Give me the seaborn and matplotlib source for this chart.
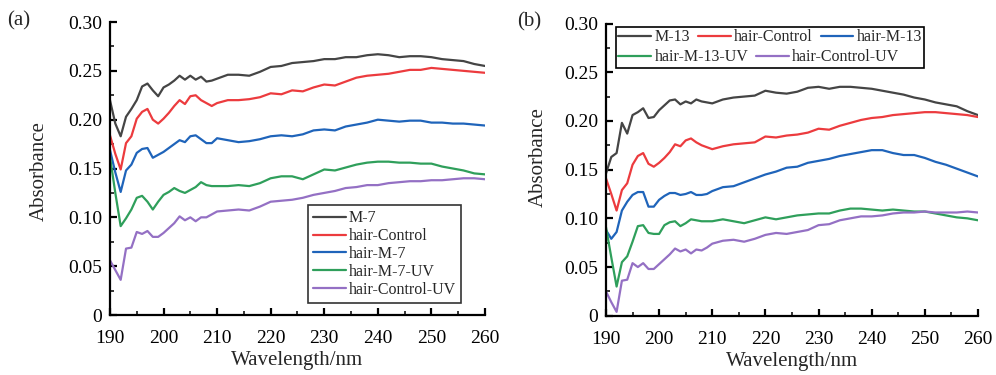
import matplotlib
matplotlib.use("Agg")
import matplotlib.pyplot as plt
import seaborn as sns
import pandas as pd
from matplotlib.patches import Rectangle
from matplotlib.transforms import Bbox
from matplotlib.ticker import MultipleLocator, FuncFormatter

# ---------------- data ----------------
wavelength = list(range(190, 211)) + list(range(212, 261, 2))

# panel (a)
a_M7 = [0.220, 0.196, 0.183, 0.203, 0.211, 0.220, 0.234, 0.237, 0.230, 0.224, 0.233,
        0.236, 0.240, 0.245, 0.241, 0.245, 0.241, 0.244, 0.239, 0.240, 0.242,
        0.246, 0.246, 0.245, 0.249, 0.254, 0.255, 0.258, 0.259, 0.260, 0.262,
        0.262, 0.264, 0.264, 0.266, 0.267, 0.266, 0.264, 0.265, 0.265, 0.264,
        0.262, 0.261, 0.260, 0.257, 0.255]
a_hair_control = [0.184, 0.165, 0.149, 0.176, 0.183, 0.201, 0.208, 0.211, 0.200, 0.196, 0.201,
                  0.207, 0.214, 0.220, 0.216, 0.224, 0.225, 0.220, 0.217, 0.214, 0.217,
                  0.220, 0.220, 0.221, 0.223, 0.227, 0.226, 0.230, 0.229, 0.233, 0.236,
                  0.235, 0.239, 0.243, 0.245, 0.246, 0.247, 0.249, 0.251, 0.251, 0.253,
                  0.252, 0.251, 0.250, 0.249, 0.248]
a_hair_M7 = [0.169, 0.146, 0.126, 0.148, 0.154, 0.166, 0.170, 0.171, 0.161, 0.164, 0.167,
             0.171, 0.175, 0.179, 0.177, 0.183, 0.184, 0.180, 0.176, 0.176, 0.181,
             0.179, 0.177, 0.178, 0.180, 0.183, 0.184, 0.183, 0.185, 0.189, 0.190,
             0.189, 0.193, 0.195, 0.197, 0.200, 0.199, 0.198, 0.199, 0.199, 0.197,
             0.197, 0.196, 0.196, 0.195, 0.194]
a_hair_M7_UV = [0.162, 0.125, 0.091, 0.099, 0.108, 0.120, 0.122, 0.116, 0.108, 0.116, 0.123,
                0.126, 0.130, 0.127, 0.125, 0.128, 0.131, 0.136, 0.133, 0.132, 0.132,
                0.132, 0.133, 0.132, 0.135, 0.140, 0.142, 0.142, 0.139, 0.144, 0.149,
                0.148, 0.151, 0.154, 0.156, 0.157, 0.157, 0.156, 0.156, 0.155, 0.155,
                0.152, 0.150, 0.148, 0.145, 0.144]
a_hair_control_UV = [0.056, 0.046, 0.036, 0.068, 0.069, 0.085, 0.083, 0.086, 0.080, 0.080, 0.084,
                     0.089, 0.094, 0.101, 0.097, 0.100, 0.096, 0.100, 0.100, 0.103, 0.106,
                     0.107, 0.108, 0.107, 0.111, 0.116, 0.117, 0.118, 0.120, 0.123, 0.125,
                     0.127, 0.130, 0.131, 0.133, 0.133, 0.135, 0.136, 0.137, 0.137, 0.138,
                     0.138, 0.139, 0.140, 0.140, 0.139]

# panel (b)
b_M13 = [0.146, 0.163, 0.167, 0.198, 0.187, 0.206, 0.209, 0.213, 0.203, 0.204, 0.211,
         0.216, 0.221, 0.222, 0.217, 0.220, 0.218, 0.222, 0.220, 0.219, 0.218,
         0.222, 0.224, 0.225, 0.226, 0.231, 0.229, 0.228, 0.230, 0.234, 0.235,
         0.233, 0.235, 0.235, 0.234, 0.233, 0.231, 0.229, 0.227, 0.224, 0.222,
         0.219, 0.217, 0.215, 0.210, 0.206]
b_hair_control = [0.141, 0.125, 0.108, 0.129, 0.136, 0.155, 0.164, 0.167, 0.156, 0.153, 0.157,
                  0.162, 0.168, 0.176, 0.174, 0.180, 0.182, 0.178, 0.175, 0.173, 0.171,
                  0.174, 0.176, 0.177, 0.178, 0.184, 0.183, 0.185, 0.186, 0.188, 0.192,
                  0.191, 0.195, 0.198, 0.201, 0.203, 0.204, 0.206, 0.207, 0.208, 0.209,
                  0.209, 0.208, 0.207, 0.206, 0.204]
b_hair_M13 = [0.088, 0.079, 0.086, 0.108, 0.117, 0.124, 0.127, 0.127, 0.112, 0.112, 0.119,
              0.123, 0.126, 0.126, 0.124, 0.125, 0.127, 0.124, 0.124, 0.125, 0.128,
              0.132, 0.133, 0.137, 0.141, 0.145, 0.148, 0.152, 0.153, 0.157, 0.159,
              0.161, 0.164, 0.166, 0.168, 0.170, 0.170, 0.167, 0.165, 0.165, 0.162,
              0.158, 0.155, 0.151, 0.147, 0.143]
b_hair_M13_UV = [0.091, 0.060, 0.030, 0.055, 0.061, 0.076, 0.092, 0.093, 0.085, 0.084, 0.084,
                 0.093, 0.096, 0.097, 0.092, 0.095, 0.099, 0.098, 0.097, 0.097, 0.097,
                 0.099, 0.097, 0.095, 0.098, 0.101, 0.099, 0.101, 0.103, 0.104, 0.105,
                 0.105, 0.108, 0.110, 0.110, 0.109, 0.108, 0.109, 0.108, 0.107, 0.107,
                 0.105, 0.103, 0.101, 0.100, 0.098]
b_hair_control_UV = [0.025, 0.014, 0.004, 0.036, 0.037, 0.054, 0.050, 0.054, 0.048, 0.048, 0.053,
                     0.058, 0.063, 0.069, 0.066, 0.068, 0.064, 0.068, 0.067, 0.070, 0.074,
                     0.077, 0.078, 0.076, 0.079, 0.083, 0.085, 0.084, 0.086, 0.088, 0.093,
                     0.094, 0.098, 0.100, 0.102, 0.102, 0.103, 0.105, 0.106, 0.106, 0.107,
                     0.106, 0.106, 0.106, 0.107, 0.106]

labels_a = ["M-7", "hair-Control", "hair-M-7", "hair-M-7-UV", "hair-Control-UV"]
labels_b = ["M-13", "hair-Control", "hair-M-13", "hair-M-13-UV", "hair-Control-UV"]
colors = ["#454545", "#ec3b3e", "#1f64ba", "#2f9f5b", "#9470c4"]
x_ticks = [190, 200, 210, 220, 230, 240, 250, 260]
y_ticks = [0, 0.05, 0.10, 0.15, 0.20, 0.25, 0.30]

# ---------------- style ----------------
sns.set_style("ticks")
plt.rcParams["font.family"] = ["Liberation Serif", "DejaVu Serif"]
plt.rcParams["axes.linewidth"] = 1.6

fig = plt.figure(figsize=(9.96, 3.75), dpi=100)
ax_a = fig.add_axes([0.1104, 0.16, 0.3765, 0.7813])
ax_b = fig.add_axes([0.6084, 0.158, 0.3735, 0.7793])


def draw(ax, series, labels):
    for vals, lab, col in zip(series, labels, colors):
        df = pd.DataFrame({"Wavelength": wavelength, "Absorbance": vals})
        sns.lineplot(data=df, x="Wavelength", y="Absorbance", ax=ax, color=col,
                     linewidth=1.6, label=lab, legend=False, estimator=None)
    ax.set_xlim(190, 260)
    ax.set_ylim(0, 0.30)
    ax.set_xticks(x_ticks)
    ax.set_yticks(y_ticks)
    ax.xaxis.set_minor_locator(MultipleLocator(5))
    ax.yaxis.set_minor_locator(MultipleLocator(0.025))
    ax.yaxis.set_major_formatter(FuncFormatter(lambda v, p: "0" if abs(v) < 1e-9 else f"{v:.2f}"))
    ax.tick_params(which="major", direction="in", length=5, width=1.6, labelsize=14)
    ax.tick_params(axis="y", which="major", pad=5.5)
    ax.tick_params(axis="x", which="major", pad=11)
    ax.tick_params(which="minor", direction="in", length=3, width=1.3)
    ax.set_xlabel("Wavelength/nm", fontsize=15, labelpad=3)
    ax.set_ylabel("Absorbance", fontsize=15)
    for s in ["top", "right"]:
        ax.spines[s].set_visible(False)
    ax.spines["left"].set_color("black")
    ax.spines["bottom"].set_color("black")
    ax.tick_params(colors="black")


draw(ax_a, [a_M7, a_hair_control, a_hair_M7, a_hair_M7_UV, a_hair_control_UV], labels_a)
draw(ax_b, [b_M13, b_hair_control, b_hair_M13, b_hair_M13_UV, b_hair_control_UV], labels_b)
ax_a.yaxis.set_label_coords(-0.162, 0.49)
ax_b.yaxis.set_label_coords(-0.157, 0.543)

# legend (a)
h_a, l_a = ax_a.get_legend_handles_labels()
leg_a = ax_a.legend(h_a, l_a, loc="lower right", bbox_to_anchor=(0.936, 0.042),
                    fontsize=11.5, handlelength=2.05, handletextpad=0.2, labelspacing=0.12,
                    borderpad=0.3, borderaxespad=0, frameon=True, fancybox=False)
leg_a.get_frame().set_edgecolor("black")
leg_a.get_frame().set_linewidth(1.2)

# legend (b): two flowing rows with one frame
h_b, l_b = ax_b.get_legend_handles_labels()
common = dict(fontsize=11.5, handlelength=2.05, handletextpad=0.2, columnspacing=0.5,
              borderpad=0.15, borderaxespad=0, frameon=False)
leg_b1 = ax_b.legend(h_b[:3], l_b[:3], ncol=3, loc="upper left",
                     bbox_to_anchor=(0.027, 0.988), **common)
ax_b.add_artist(leg_b1)
leg_b2 = ax_b.legend(h_b[3:], l_b[3:], ncol=2, loc="upper left",
                     bbox_to_anchor=(0.027, 0.92), **common)
fig.canvas.draw()
bb = Bbox.union([leg_b1.get_window_extent(), leg_b2.get_window_extent()])
bbf = bb.transformed(fig.transFigure.inverted())
fig.add_artist(Rectangle((bbf.x0, bbf.y0), bbf.width, bbf.height, transform=fig.transFigure,
                         fill=False, edgecolor="black", linewidth=1.2))

fig.text(0.007, 0.945, "(a)", fontsize=15, ha="left", va="center")
fig.text(0.519, 0.942, "(b)", fontsize=15, ha="left", va="center")

fig.savefig("out.png", dpi=100)
